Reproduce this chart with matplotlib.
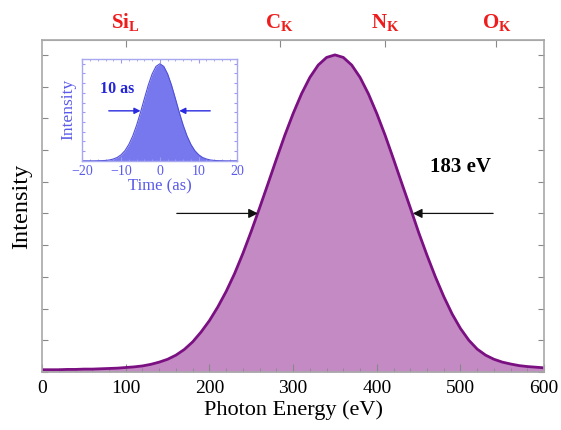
import numpy as np
import matplotlib
matplotlib.use("Agg")
from matplotlib import pyplot as plt
from matplotlib.ticker import MultipleLocator

plt.rcParams["font.family"] = ["Liberation Serif", "DejaVu Serif"]
plt.rcParams["mathtext.fontset"] = "custom"
plt.rcParams["mathtext.rm"] = "Liberation Serif"
plt.rcParams["mathtext.bf"] = "Liberation Serif:bold"

# main spectrum (eV, normalised intensity)
energy = list(range(0, 601, 10))
intensity = [
    0.007, 0.007, 0.007, 0.008, 0.008, 0.009, 0.009, 0.010, 0.011, 0.012,
    0.014, 0.016, 0.019, 0.024, 0.031, 0.040, 0.053, 0.071, 0.095, 0.126,
    0.162, 0.205, 0.254, 0.310, 0.374, 0.444, 0.518, 0.594, 0.671, 0.746,
    0.815, 0.877, 0.929, 0.968, 0.992, 1.000, 0.992, 0.968, 0.929, 0.877,
    0.815, 0.746, 0.671, 0.594, 0.518, 0.440, 0.368, 0.300, 0.238, 0.183,
    0.137, 0.100, 0.072, 0.053, 0.040, 0.031, 0.025, 0.020, 0.017, 0.015,
    0.013,
]

# absorption edges on the top axis
edge_pos = [100, 284, 410, 543]
edge_labels = [r"$\mathbf{Si}_\mathbf{L}$", r"$\mathbf{C}_\mathbf{K}$",
               r"$\mathbf{N}_\mathbf{K}$", r"$\mathbf{O}_\mathbf{K}$"]

# inset pulse (as, normalised intensity)
time_as = list(range(-20, 21))
pulse = [
    0.0, 0.0, 0.0, 0.0, 0.001, 0.002, 0.004, 0.009, 0.019, 0.035,
    0.063, 0.106, 0.170, 0.257, 0.369, 0.500, 0.642, 0.780, 0.895, 0.973,
    1.000, 0.973, 0.895, 0.780, 0.642, 0.500, 0.369, 0.257, 0.170, 0.106,
    0.063, 0.035, 0.019, 0.009, 0.004, 0.002, 0.001, 0.0, 0.0, 0.0, 0.0,
]

fwhm_e = (258, 443)
fwhm_t = (-5, 5)

FILL = "#c48ac4"
LINE = "#7a1082"
FRAME = "#a8a8a8"
BLUE = "#5a5aea"
BLUE_DARK = "#2424d8"

fig = plt.figure(figsize=(5.61, 4.30), dpi=100)
ax = fig.add_axes([0.075, 0.135, 0.895, 0.772])

ax.fill_between(energy, intensity, 0, color=FILL, lw=0)
ax.plot(energy, intensity, color=LINE, lw=2.0, solid_joinstyle="round")
ax.set_xlim(0, 600)
ax.set_ylim(0, 1.047)

ax.xaxis.set_major_locator(MultipleLocator(100))
ax.xaxis.set_minor_locator(MultipleLocator(20))
ax.yaxis.set_major_locator(MultipleLocator(0.1))
ax.set_yticklabels([])
ax.tick_params(axis="both", which="both", direction="in", color="#888888")
ax.tick_params(axis="x", which="major", length=6, labelsize=14, pad=6)
ax.tick_params(axis="x", which="minor", length=3)
ax.tick_params(axis="y", which="major", length=4, left=True, right=True)
ax.tick_params(axis="x", top=False)
for s in ax.spines.values():
    s.set_color(FRAME)
    s.set_linewidth(1.2)

ax.set_xlabel("Photon Energy (eV)", fontsize=16, labelpad=2)
ax.set_ylabel("Intensity", fontsize=17.5, labelpad=4)

top = ax.secondary_xaxis("top")
top.set_xticks(edge_pos)
top.set_xticklabels(edge_labels)
top.tick_params(direction="in", length=5, color="#888888", labelsize=15,
                labelcolor="#ee1c1c", pad=4)
top.spines["top"].set_color(FRAME)

arrow = dict(arrowstyle="-|>", color="#111111", lw=0.9, mutation_scale=14,
             shrinkA=0, shrinkB=0)
ax.annotate("", xy=(fwhm_e[0], 0.5), xytext=(161, 0.5), arrowprops=arrow)
ax.annotate("", xy=(fwhm_e[1], 0.5), xytext=(539, 0.5), arrowprops=arrow)
ax.text(500, 0.645, "183 eV", fontsize=15, fontweight="bold",
        ha="center", va="center")

# inset
ins = fig.add_axes([0.147, 0.626, 0.276, 0.237])
ins.fill_between(time_as, pulse, 0, color="#7878ee", lw=0)
ins.plot(time_as, pulse, color="#5050d8", lw=0.8)
ins.set_xlim(-20, 20)
ins.set_ylim(0, 1.05)
ins.xaxis.set_major_locator(MultipleLocator(10))
ins.xaxis.set_minor_locator(MultipleLocator(2))
ins.yaxis.set_major_locator(MultipleLocator(0.1))
ins.set_yticklabels([])
ins.tick_params(axis="both", which="both", direction="in", color="#9a9af0",
                top=True, right=True)
ins.tick_params(axis="x", which="major", length=3, labelsize=10,
                labelcolor=BLUE, pad=3)
ins.tick_params(axis="x", which="minor", length=1.5)
ins.tick_params(axis="y", length=2)
for s in ins.spines.values():
    s.set_color("#a8a8f0")
    s.set_linewidth(1.0)
ins.set_xlabel("Time (as)", fontsize=12, color=BLUE, labelpad=0)
ins.set_ylabel("Intensity", fontsize=12.5, color=BLUE, labelpad=1)

iarrow = dict(arrowstyle="-|>", color="#2a2ae0", lw=1.0, mutation_scale=9,
              shrinkA=0, shrinkB=0)
ins.annotate("", xy=(fwhm_t[0], 0.515), xytext=(-13.2, 0.515), arrowprops=iarrow)
ins.annotate("", xy=(fwhm_t[1], 0.515), xytext=(13.0, 0.515), arrowprops=iarrow)
ins.text(-11, 0.74, "10 as", fontsize=11.5, fontweight="bold",
         color=BLUE_DARK, ha="center", va="center")

fig.savefig("out.png", dpi=100)
